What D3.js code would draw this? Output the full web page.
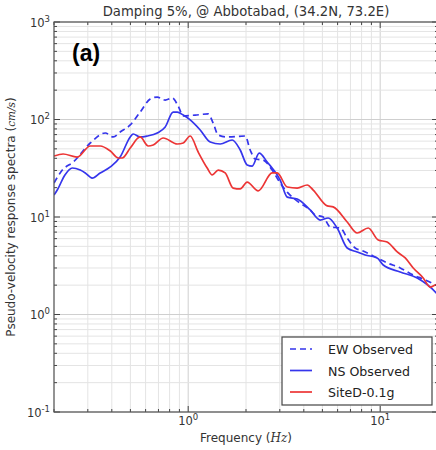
<!DOCTYPE html>
<html>
<head>
<meta charset="utf-8">
<script src="https://cdn.jsdelivr.net/npm/d3@7"></script>
<style>
  html, body { margin: 0; padding: 0; background: #fff; }
  svg { display: block; font-family: "DejaVu Sans", sans-serif; }
</style>
</head>
<body>
<svg id="chart" width="436" height="450"></svg>
<script>
// Pseudo-velocity response spectra, 5% damping (Hz, cm/s)
const ewFreq = [0.200, 0.221, 0.252, 0.309, 0.370, 0.407, 0.442, 0.499, 0.562, 0.634, 0.690, 0.759, 0.826, 0.887, 0.942, 1.087, 1.271, 1.349, 1.433, 1.596, 1.980, 2.103, 2.234, 2.459, 2.738, 3.014, 3.279, 3.742, 4.318, 4.585, 5.048, 5.490, 6.189, 6.731, 7.405, 8.149, 9.419, 10.87, 12.71, 14.86, 16.75, 19.58, 20.0];
const ewVel  = [22.3, 30.3, 36.6, 57.4, 72.7, 66.2, 74.4, 87.9, 119, 162, 170, 158, 166, 137, 109, 111, 114, 92, 69.3, 66.2, 67.7, 48.7, 39.3, 38.4, 30.3, 22.3, 18.0, 14.3, 11.8, 10.5, 10.0, 7.89, 7.71, 6.09, 4.81, 4.48, 3.89, 3.38, 3.00, 2.54, 2.31, 2.01, 1.98];

const nsFreq = [0.200, 0.208, 0.228, 0.249, 0.274, 0.291, 0.316, 0.348, 0.393, 0.442, 0.499, 0.517, 0.562, 0.611, 0.690, 0.759, 0.835, 0.877, 0.942, 1.024, 1.155, 1.302, 1.468, 1.694, 1.866, 2.028, 2.154, 2.343, 2.578, 3.014, 3.279, 3.698, 4.318, 4.870, 5.359, 5.968, 6.731, 7.586, 8.349, 9.649, 10.37, 12.71, 15.59, 19.58, 20.0];
const nsVel  = [16.8, 18.9, 27.0, 31.8, 30.3, 28.3, 25.1, 28.3, 32.6, 41.2, 66.2, 71.0, 66.2, 67.7, 72.7, 83.8, 119, 119, 111, 98.9, 78.0, 58.8, 56.1, 61.6, 48.7, 34.2, 33.3, 45.3, 36.6, 23.9, 16.0, 15.3, 11.8, 9.31, 9.77, 7.71, 4.81, 4.38, 4.08, 3.80, 3.22, 2.73, 2.37, 1.66, 1.58];

const siteFreq = [0.200, 0.223, 0.264, 0.309, 0.348, 0.393, 0.432, 0.453, 0.499, 0.562, 0.619, 0.657, 0.741, 0.877, 0.942, 1.024, 1.127, 1.256, 1.334, 1.433, 1.558, 1.714, 1.866, 2.028, 2.316, 2.738, 2.908, 3.279, 3.698, 4.168, 4.477, 5.296, 5.689, 6.731, 7.586, 8.660, 9.766, 10.87, 12.27, 13.50, 14.86, 16.75, 18.21, 19.58, 20.0];
const siteVel  = [42.2, 44.3, 41.2, 53.5, 53.5, 47.5, 40.3, 40.3, 51.0, 66.2, 53.5, 54.8, 64.6, 56.1, 57.4, 67.7, 46.4, 31.8, 27.0, 30.3, 28.3, 19.8, 19.4, 22.8, 18.5, 28.3, 28.3, 20.3, 19.8, 21.3, 18.9, 13.0, 12.7, 8.88, 6.85, 7.71, 5.81, 5.54, 4.38, 3.80, 3.00, 2.37, 1.91, 2.01, 2.01];

const seriesNames = ["EW Observed", "NS Observed", "SiteD-0.1g"];
const xTickExps = [0, 1];
const yTickExps = [-1, 0, 1, 2, 3];
const titleText = "Damping 5%, @ Abbotabad, (34.2N, 73.2E)";

const series = [
  { name: seriesNames[0], freq: ewFreq,   vel: ewVel,   color: "#3535ec", dash: "6,4" },
  { name: seriesNames[1], freq: nsFreq,   vel: nsVel,   color: "#3535ec", dash: null },
  { name: seriesNames[2], freq: siteFreq, vel: siteVel, color: "#ec3535", dash: null }
];

const svg = d3.select("#chart");
const pL = 54, pR = 438, pT = 22, pB = 412;

const x = d3.scaleLog().domain([0.2, 20]).range([pL, pR]);
const y = d3.scaleLog().domain([0.1, 1000]).range([pB, pT]);

const xAll = x.ticks();
const yAll = y.ticks();
const isMajor = v => Math.abs(Math.log10(v) - Math.round(Math.log10(v))) < 1e-9;

// grid
const grid = svg.append("g");
grid.selectAll(".gx").data(xAll).join("line")
  .attr("x1", d => x(d)).attr("x2", d => x(d))
  .attr("y1", pT).attr("y2", pB)
  .attr("stroke", d => isMajor(d) ? "#cfcfcf" : "#e4e4e4").attr("stroke-width", 1);
grid.selectAll(".gy").data(yAll).join("line")
  .attr("y1", d => y(d)).attr("y2", d => y(d))
  .attr("x1", pL).attr("x2", pR)
  .attr("stroke", d => isMajor(d) ? "#cfcfcf" : "#e4e4e4").attr("stroke-width", 1);

// curves
svg.append("clipPath").attr("id", "plotclip").append("rect")
  .attr("x", pL).attr("y", pT).attr("width", pR - pL).attr("height", pB - pT);

const line = d3.line()
  .x(d => x(d[0])).y(d => y(d[1]))
  .curve(d3.curveMonotoneX);

const plot = svg.append("g").attr("clip-path", "url(#plotclip)");
series.forEach(s => {
  plot.append("path")
    .datum(s.freq.map((f, i) => [f, s.vel[i]]))
    .attr("fill", "none")
    .attr("stroke", s.color)
    .attr("stroke-width", 1.7)
    .attr("stroke-dasharray", s.dash)
    .attr("d", line);
});

// ticks (inward, all four sides)
const ticks = svg.append("g").attr("stroke", "#444").attr("stroke-width", 1);
xAll.forEach(v => {
  const len = isMajor(v) ? 6 : 3;
  ticks.append("line").attr("x1", x(v)).attr("x2", x(v)).attr("y1", pB).attr("y2", pB - len);
  ticks.append("line").attr("x1", x(v)).attr("x2", x(v)).attr("y1", pT).attr("y2", pT + len);
});
yAll.forEach(v => {
  const len = isMajor(v) ? 6 : 3;
  ticks.append("line").attr("y1", y(v)).attr("y2", y(v)).attr("x1", pL).attr("x2", pL + len);
  ticks.append("line").attr("y1", y(v)).attr("y2", y(v)).attr("x1", pR).attr("x2", pR - len);
});

// frame
svg.append("rect").attr("x", pL).attr("y", pT)
  .attr("width", pR - pL).attr("height", pB - pT)
  .attr("fill", "none").attr("stroke", "#555").attr("stroke-width", 1.2);

// tick labels
const tickColor = "#333";
xTickExps.forEach(e => {
  const t = svg.append("text").attr("x", x(Math.pow(10, e))).attr("y", 425)
    .attr("text-anchor", "middle").attr("font-size", 11.5).attr("fill", tickColor);
  t.append("tspan").text("10");
  t.append("tspan").attr("dy", -5).attr("font-size", 8.5).text(String(e));
});
yTickExps.forEach(e => {
  const t = svg.append("text").attr("x", 50).attr("y", y(Math.pow(10, e)) + 4.5)
    .attr("text-anchor", "end").attr("font-size", 11.5).attr("fill", tickColor);
  t.append("tspan").text("10");
  t.append("tspan").attr("dy", -5).attr("font-size", 8.5).text(String(e));
});

// title
svg.append("text").attr("x", 246).attr("y", 16).attr("text-anchor", "middle")
  .attr("font-size", 13.2).attr("fill", "#333").text(titleText);

// panel tag
svg.append("text").attr("x", 72).attr("y", 61)
  .attr("font-family", "'Liberation Sans', Arial, sans-serif")
  .attr("font-weight", "bold").attr("font-size", 23).attr("fill", "#000").text("(a)");

// axis labels
const xl = svg.append("text").attr("x", 246).attr("y", 442).attr("text-anchor", "middle")
  .attr("font-size", 12).attr("fill", "#333");
xl.append("tspan").text("Frequency (");
xl.append("tspan").attr("font-style", "italic").attr("font-family", "'DejaVu Serif', serif").text("Hz");
xl.append("tspan").text(")");

const yl = svg.append("text").attr("transform", `translate(15,${(pT + pB) / 2}) rotate(-90)`)
  .attr("text-anchor", "middle").attr("font-size", 12).attr("fill", "#333");
yl.append("tspan").text("Pseudo-velocity response spectra (");
yl.append("tspan").attr("font-style", "italic").attr("font-family", "'DejaVu Serif', serif").attr("font-size", 10.5).text("cm/s");
yl.append("tspan").text(")");

// legend
const lg = svg.append("g");
lg.append("rect").attr("x", 282).attr("y", 337).attr("width", 150).attr("height", 68)
  .attr("fill", "#fff").attr("stroke", "#444").attr("stroke-width", 1.2);
series.forEach((s, i) => {
  const yy = 349 + i * 21.5;
  lg.append("line").attr("x1", 290).attr("x2", 312).attr("y1", yy).attr("y2", yy)
    .attr("stroke", s.color).attr("stroke-width", 1.7).attr("stroke-dasharray", s.dash);
  lg.append("text").attr("x", 328).attr("y", yy + 5).attr("font-size", 12.6)
    .attr("fill", "#222").text(s.name);
});
</script>
</body>
</html>
